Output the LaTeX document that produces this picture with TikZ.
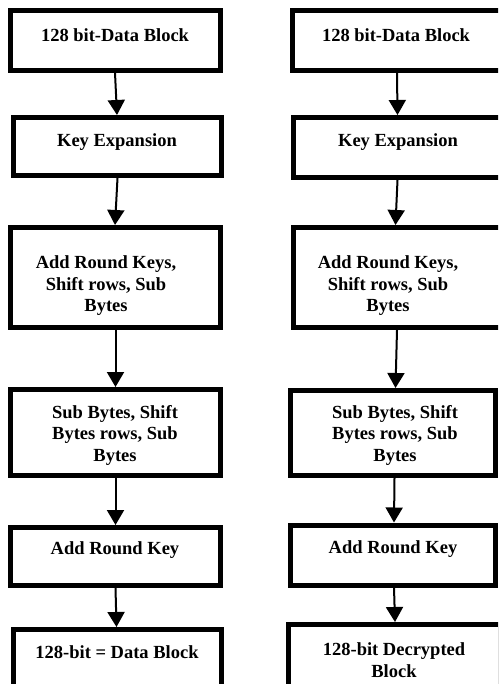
\documentclass[tikz,border=0pt]{standalone}
\usepackage{fontspec}
\setmainfont{Liberation Serif}
\usetikzlibrary{arrows.meta}

\tikzset{
  stage/.style={draw=black, line width=5pt, fill=white, inner sep=0pt, rectangle},
  txt/.style={font=\fontsize{18.5}{21.5}\selectfont\bfseries, align=center, inner sep=0pt},
  flow/.style={draw=black, line width=2pt, -{Triangle[width=17pt,length=15pt]}},
}

\begin{document}
\begin{tikzpicture}[x=1pt, y=-1pt]
  \useasboundingbox (0,0) rectangle (498,684);
  \clip (0,0) rectangle (498,684);

  % ---------- encryption column ----------
  \node[stage, minimum width=210, minimum height=60]  (l1) at (115.5,40.5)  {};
  \node[stage, minimum width=208, minimum height=58]  (l2) at (117.5,146.5) {};
  \node[stage, minimum width=210, minimum height=100] (l3) at (115.5,277.5) {};
  \node[stage, minimum width=210, minimum height=86]  (l4) at (115.5,432.5) {};
  \node[stage, minimum width=210, minimum height=58]  (l5) at (115.5,556.5) {};
  \node[stage, minimum width=208, minimum height=70]  (l6) at (117.5,664.5) {};

  \node[txt] (t1) at (115,35)  {128 bit-Data Block};
  \node[txt] (t2) at (117,142) {Key Expansion};
  \node[txt] (t3) at (106,286) {Add Round Keys,\\Shift rows, Sub\\Bytes};
  \node[txt] (t4) at (115,435) {Sub Bytes, Shift\\Bytes rows, Sub\\Bytes};
  \node[txt] (t5) at (115,550) {Add Round Key};
  \node[txt] (t6) at (117,652) {128-bit = Data Block};

  \draw[flow] ([xshift=-0.5pt]l1.south) -- ([xshift=-0.5pt]l2.north);
  \draw[flow] (l2.south) -- ([xshift=-0.5pt]l3.north);
  \draw[flow] (l3.south) -- (l4.north);
  \draw[flow] (l4.south) -- (l5.north);
  \draw[flow] (l5.south) -- ([xshift=-1pt]l6.north);

  % ---------- decryption column ----------
  \node[stage, minimum width=212, minimum height=60]  (r1) at (398.5,40.5)  {};
  \node[stage, minimum width=212, minimum height=60]  (r2) at (399.5,147.5) {};
  \node[stage, minimum width=212, minimum height=100] (r3) at (399.5,277.5) {};
  \node[stage, minimum width=205, minimum height=85]  (r4) at (393,433)     {};
  \node[stage, minimum width=205, minimum height=60]  (r5) at (393,555)     {};
  \node[stage, minimum width=212, minimum height=80]  (r6) at (394.5,664.5) {};

  \node[txt] (u1) at (396,35)  {128 bit-Data Block};
  \node[txt] (u2) at (398,142) {Key Expansion};
  \node[txt] (u3) at (388,286) {Add Round Keys,\\Shift rows, Sub\\Bytes};
  \node[txt] (u4) at (395,435) {Sub Bytes, Shift\\Bytes rows, Sub\\Bytes};
  \node[txt] (u5) at (393,549) {Add Round Key};
  \node[txt] (u6) at (394,660) {128-bit Decrypted\\Block};

  \draw[flow] ([xshift=-1.5pt]r1.south) -- ([xshift=-2pt]r2.north);
  \draw[flow] ([xshift=-2pt]r2.south) -- ([xshift=-4pt]r3.north);
  \draw[flow] ([xshift=-2.5pt]r3.south) -- ([xshift=2.5pt]r4.north);
  \draw[flow] ([xshift=1.5pt]r4.south) -- ([xshift=1pt]r5.north);
  \draw[flow] ([xshift=1pt]r5.south) -- ([xshift=0.5pt]r6.north);
\end{tikzpicture}
\end{document}
